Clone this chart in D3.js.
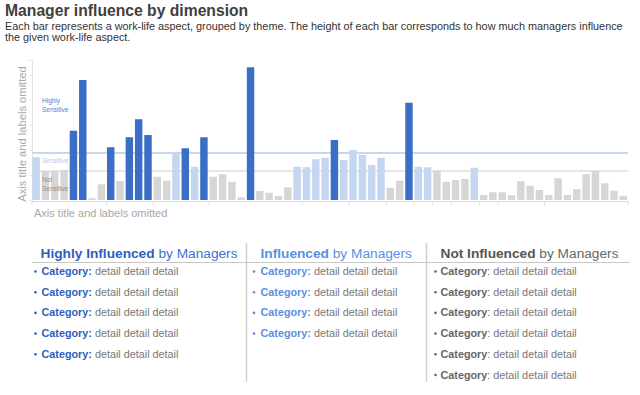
<!DOCTYPE html>
<html>
<head>
<meta charset="utf-8">
<script src="https://cdn.jsdelivr.net/npm/d3@7"></script>
<style>
  body { margin: 0; background: #fff; }
  svg { display: block; font-family: "Liberation Sans", Arial, Helvetica, sans-serif; }
</style>
</head>
<body>
<div id="vis"></div>
<script>
// influence score per work-life aspect, left to right
var influence = [
  1.71, 1.16, 1.16, 1.20, 2.77, 4.80, 0.07, 0.63, 2.11, 0.76,
  2.51, 3.23, 2.60, 0.93, 0.77, 1.87, 2.07, 1.33, 2.51, 0.93,
  1.03, 0.72, 0.11, 5.31, 0.36, 0.29, 0.16, 0.51, 1.33, 1.31,
  1.63, 1.69, 2.40, 1.60, 2.00, 1.80, 1.40, 1.69, 0.49, 0.77,
  3.89, 1.33, 1.31, 1.17, 0.73, 0.80, 0.84, 1.29, 0.20, 0.31,
  0.31, 0.19, 0.75, 0.57, 0.40, 0.20, 0.87, 0.20, 0.43, 1.03,
  1.17, 0.67, 0.37, 0.17
];

// H = highly influenced, M = influenced, L = not influenced
var level = [
  'M','L','L','L','H','H','L','L','H','L',
  'H','H','H','L','L','M','H','M','H','L',
  'L','L','L','H','L','L','L','L','M','M',
  'M','M','H','M','M','M','M','M','L','L',
  'H','M','M','L','L','L','L','M','L','L',
  'L','L','L','L','L','L','L','L','L','L',
  'L','L','L','L'
];

// number of bars before each theme boundary tick
var groupEnds = [8, 13, 19, 29, 34, 38, 41, 43, 45, 48, 50, 55];

var thresholds = [1.88, 1.16];

var legendHeaders = ['Highly Influenced', 'Influenced', 'Not Influenced'];
var legendCounts = [5, 4, 6];

var colors = {
  H: '#3b6fc6',
  M: '#c5d6f0',
  L: '#d6d6d6'
};

var width = 640,
    height = 395;

var svg = d3.select('#vis').append('svg')
  .attr('width', width)
  .attr('height', height);

/* Title and subtitle */
svg.append('text')
  .attr('x', 5)
  .attr('y', 16)
  .attr('font-size', 15.7)
  .attr('font-weight', 'bold')
  .attr('fill', '#404040')
  .text('Manager influence by dimension');

svg.append('text')
  .attr('x', 5)
  .attr('y', 29.5)
  .attr('font-size', 10.85)
  .attr('fill', '#333')
  .text('Each bar represents a work-life aspect, grouped by theme. The height of each bar corresponds to how much managers influence');

svg.append('text')
  .attr('x', 5)
  .attr('y', 40.5)
  .attr('font-size', 10.85)
  .attr('fill', '#333')
  .text('the given work-life aspect.');

/* Scales */
var x = d3.scaleBand()
  .domain(d3.range(influence.length))
  .range([31.5, 628])
  .paddingInner(0.2)
  .paddingOuter(0.1);

var xi = d3.scaleLinear()
  .domain([0, influence.length])
  .range([31.5, 31.5 + influence.length * x.step()]);

var y = d3.scaleLinear()
  .domain([0, 5.6])
  .range([200, 60]);

/* Axes */
var yAxis = svg.append('g')
  .attr('transform', 'translate(32,0)')
  .call(d3.axisLeft(y).ticks(5).tickSize(3).tickFormat(''));

yAxis.select('.domain').attr('stroke', '#e3e3e3');
yAxis.selectAll('.tick line').attr('stroke', '#ececec');

var xAxis = svg.append('g')
  .attr('transform', 'translate(0,201)')
  .call(d3.axisBottom(xi).tickValues(groupEnds).tickSize(4).tickSizeOuter(4).tickFormat(''));

xAxis.select('.domain').attr('stroke', '#dcdcdc');
xAxis.selectAll('.tick line').attr('stroke', '#dcdcdc');

/* Threshold lines behind bars */
svg.selectAll('.threshold')
  .data(thresholds)
  .enter().append('line')
    .classed('threshold', true)
    .attr('x1', 32)
    .attr('x2', 628)
    .attr('y1', function(d) { return y(d); })
    .attr('y2', function(d) { return y(d); })
    .attr('stroke', function(d, i) { return i === 0 ? '#c7d7f1' : '#dedede'; })
    .attr('stroke-width', function(d, i) { return i === 0 ? 2 : 1.5; });

/* Bars */
svg.selectAll('.bar')
  .data(influence)
  .enter().append('rect')
    .classed('bar', true)
    .attr('x', function(d, i) { return x(i); })
    .attr('width', x.bandwidth())
    .attr('y', function(d) { return y(d); })
    .attr('height', function(d) { return y(0) - y(d); })
    .attr('fill', function(d, i) { return colors[level[i]]; });

/* Sensitivity annotations */
var notes = [
  {lines: ['Highly', 'Sensitive'], color: '#4f82d6', y: 103},
  {lines: ['Sensitive'], color: '#b3c9ec', y: 162.5},
  {lines: ['Not', 'Sensitive'], color: '#8f8f8f', y: 182}
];

notes.forEach(function(n) {
  var t = svg.append('text')
    .attr('x', 42)
    .attr('y', n.y)
    .attr('font-size', 6.5)
    .attr('fill', n.color);
  n.lines.forEach(function(l, i) {
    t.append('tspan')
      .attr('x', 42)
      .attr('dy', i === 0 ? 0 : 8.5)
      .text(l);
  });
});

/* Axis titles */
svg.append('text')
  .attr('x', 34)
  .attr('y', 217)
  .attr('font-size', 11)
  .attr('fill', '#a8a8a8')
  .text('Axis title and labels omitted');

svg.append('text')
  .attr('transform', 'translate(25.5,134) rotate(-90)')
  .attr('text-anchor', 'middle')
  .attr('font-size', 11.2)
  .attr('fill', '#a8a8a8')
  .text('Axis title and labels omitted');

/* Legend columns */
var legendPrefs = {
  headerColors: ['#2f5fbf', '#5b8fe3', '#555'],
  subColors: ['#3f6fcf', '#5b8fe3', '#666'],
  catColors: ['#2f5fbf', '#5b8fe3', '#666'],
  bulletX: [34, 252.5, 434],
  textX: [41.5, 260.5, 440.5],
  headerY: 258,
  firstItemY: 275,
  itemStep: 20.7
};

svg.append('line')
  .attr('x1', 32).attr('x2', 630)
  .attr('y1', 262.5).attr('y2', 262.5)
  .attr('stroke', '#c8c8c8')
  .attr('stroke-width', 1);

[246.5, 426.5].forEach(function(sx) {
  svg.append('line')
    .attr('x1', sx).attr('x2', sx)
    .attr('y1', 243).attr('y2', 382)
    .attr('stroke', '#cfcfcf')
    .attr('stroke-width', 1.5);
});

legendHeaders.forEach(function(h, c) {
  var head = svg.append('text')
    .attr('x', legendPrefs.textX[c] - (c === 0 ? 1 : 0))
    .attr('y', legendPrefs.headerY)
    .attr('font-size', 13.7);
  head.append('tspan')
    .attr('font-weight', 'bold')
    .attr('fill', legendPrefs.headerColors[c])
    .text(h);
  head.append('tspan')
    .attr('fill', legendPrefs.subColors[c])
    .text(' by Managers');

  d3.range(legendCounts[c]).forEach(function(k) {
    var yy = legendPrefs.firstItemY + k * legendPrefs.itemStep;
    svg.append('circle')
      .attr('cx', legendPrefs.bulletX[c] + 1.5)
      .attr('cy', yy - 3.5)
      .attr('r', 1.3)
      .attr('fill', legendPrefs.catColors[c]);
    var item = svg.append('text')
      .attr('x', legendPrefs.textX[c])
      .attr('y', yy)
      .attr('font-size', 10.8);
    item.append('tspan')
      .attr('font-weight', 'bold')
      .attr('fill', legendPrefs.catColors[c])
      .text(c === 2 ? 'Category' : 'Category:');
    if (c === 2) {
      item.append('tspan').attr('fill', '#666').text(':');
    }
    item.append('tspan')
      .attr('fill', '#777')
      .text(' detail detail detail');
  });
});
</script>
</body>
</html>
